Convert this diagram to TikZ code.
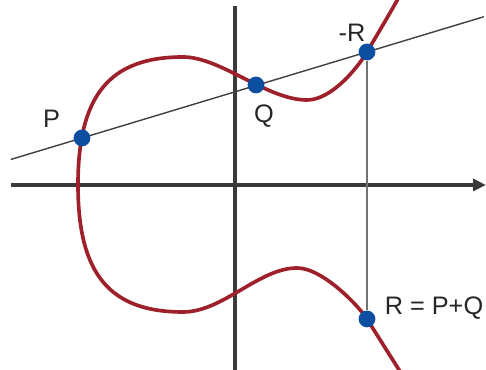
\documentclass[tikz,border=0pt]{standalone}
\usepackage{fontspec}
\setmainfont{Liberation Sans}
\usetikzlibrary{positioning,arrows.meta,calc,backgrounds}
\definecolor{curvered}{RGB}{158,32,42}
\definecolor{dotblue}{RGB}{12,78,160}
\definecolor{axisgray}{RGB}{58,58,58}

\begin{document}
\begin{tikzpicture}[
    font=\fontsize{18}{20}\selectfont,
    axis/.style={line width=2.4pt, axisgray},
    curve/.style={line width=2.6pt, curvered},
    secant/.style={line width=1pt, black!75},
    drop/.style={line width=0.9pt, black!55},
    pt/.style={circle, fill=dotblue, inner sep=0pt, minimum size=4.2mm},
    lbl/.style={inner sep=0pt, text=black!85}]

  \useasboundingbox (-5.875,-4.625) rectangle (6.275,4.625);

  % ---- points on the curve -----------------------------------------------
  \node[pt] (P)  at (-3.825, 1.175) {};
  \node[pt] (Q)  at (0.525, 2.5)    {};
  \node[pt] (mR) at (3.3, 3.325)    {};
  \node[pt] (R)  at (3.3, -3.35)    {};

  \node[lbl, above left=0.1 and 0.39 of P]     (labP)  {P};
  \node[lbl, below=0.28 of Q, xshift=2mm]      (labQ)  {Q};
  \node[lbl, above=0.05 of mR, xshift=-3.75mm] (labmR) {-R};
  \node[lbl, right=0.22 of R, yshift=2.75mm]   (labR)  {R = P+Q};

  % ---- axes, chord and curve underneath ----------------------------------
  \begin{scope}[on background layer]
    \coordinate (xL) at (-5.6, 0);
    \coordinate (xR) at (6.27, 0);
    \coordinate (yT) at (0, 4.475);
    \coordinate (yB) at (0, -4.7);
    \draw[axis, -{Triangle[length=9pt, width=8.5pt]}] (xL) -- (xR);
    \draw[axis] (yB) -- (yT);

    \draw[secant] ($(P)!-0.25!(mR)$) -- ($(P)!1.41!(mR)$);
    \draw[drop] (mR) -- (R);

    \draw[curve] (4.1, 4.7)
      .. controls (3.85, 4.25) and (3.55, 3.75) .. (3.3, 3.325)
      .. controls (3.125, 3.02) and (2.45, 2.125) .. (1.8, 2.125)
      .. controls (0.8, 2.125) and (-0.35, 3.2) .. (-1.3, 3.2)
      .. controls (-3.14, 3.2) and (-3.925, 2.24) .. (-3.925, 0)
      .. controls (-3.925, -2.22) and (-3.14, -3.175) .. (-1.3, -3.175)
      .. controls (-0.3, -3.175) and (0.6, -2.075) .. (1.55, -2.075)
      .. controls (2.2, -2.075) and (3.115, -3.05) .. (3.3, -3.35)
      .. controls (3.55, -3.75) and (3.9, -4.3) .. (4.15, -4.7);
  \end{scope}
\end{tikzpicture}
\end{document}
